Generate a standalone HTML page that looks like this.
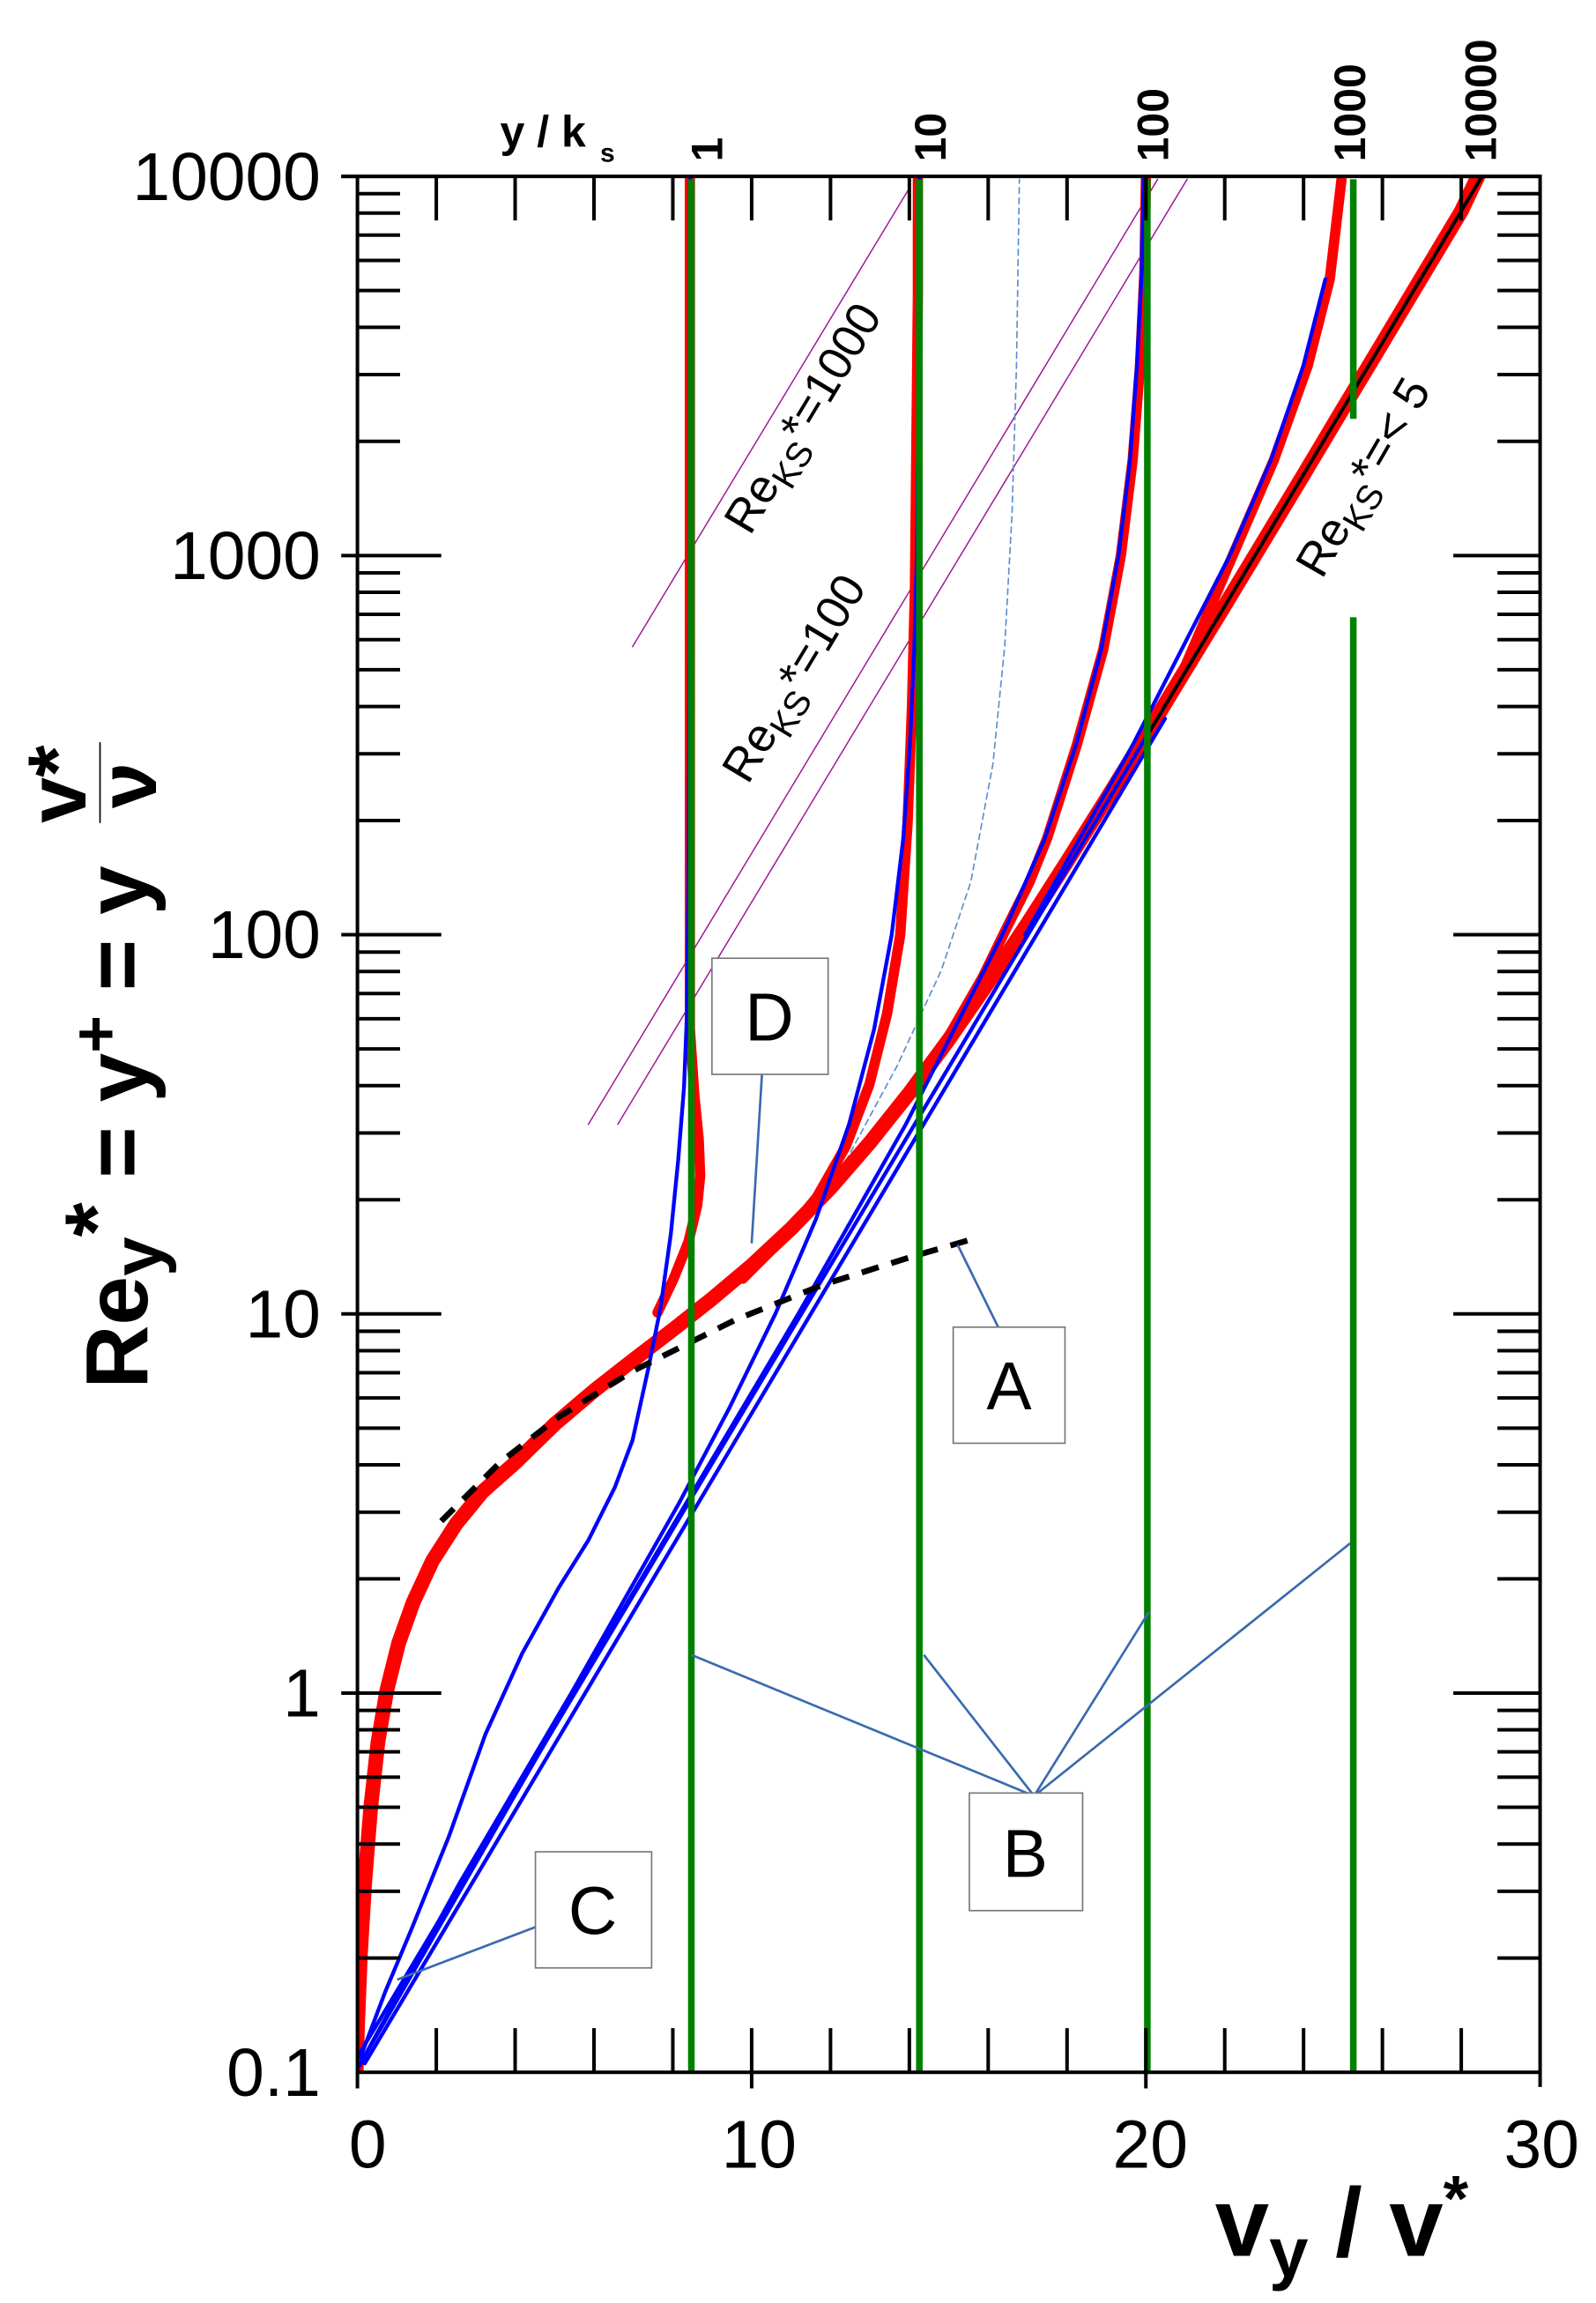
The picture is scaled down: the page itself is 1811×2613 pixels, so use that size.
<!DOCTYPE html>
<html><head><meta charset="utf-8"><style>html,body{margin:0;padding:0;background:#fff}svg{display:block}</style></head>
<body>
<svg xmlns="http://www.w3.org/2000/svg" width="1811" height="2613" viewBox="0 0 1085 1567" preserveAspectRatio="none" font-family="Liberation Sans, Arial, sans-serif">
<rect width="1085" height="1567" fill="#fff"/>
<defs><clipPath id="cp"><rect x="243" y="120" width="804" height="1290"/></clipPath></defs>
<g clip-path="url(#cp)" fill="none" stroke-linejoin="round" stroke-linecap="round">
 <g stroke="#a0189a" stroke-width="0.9">
  <line x1="430" y1="440" x2="617" y2="130"/>
  <line x1="400" y1="765" x2="787" y2="122"/>
  <line x1="420" y1="765" x2="807" y2="122"/>
 </g>
 <polyline stroke="#5b8fd0" stroke-width="1" stroke-dasharray="4,3" points="575,790 610,725 640,660 660,600 675,520 683,440 688,350 691,250 693,122"/>
 <!-- smooth wall -->
 <polyline stroke="#ff0000" stroke-width="10" points="242,1415 243,1380 245,1330 248,1280 252,1230 257,1185 263,1150 271,1118 281,1090 294,1062 310,1037 328,1015 350,995.5 377,969.1 403.8,946.3 430.6,925.3 457.4,904.8 484.2,883.6 511,861 537.8,836 564.6,808.3 591.4,777.4 618.2,743.7 645,707.3 671.8,668.6 698.6,628.2 725.4,586.3 752.2,543.6 779,500.2 805.8,456 832.6,412 859.4,367.5 886.2,323 913,278 939.8,233.3 966.6,188.5 993.4,143.7 1006.8,115.6"/>
 <!-- rough red curves -->
 <polyline stroke="#ff0000" stroke-width="7" points="505,870 530,845 555,815 575,780 591,738 603,690 612,636 617,560 620,480 622,400 623,300 624,200 624,122"/>
 <polyline stroke="#ff0000" stroke-width="7" points="618,744 645,705 668,665 684,632 700,600 712,570 732,507 750,442 762,378 770,313 775,249 778,185 779,122"/>
 <polyline stroke="#ff0000" stroke-width="7" points="779,500 805,455 838,378 866,313 889,249 904,190 912,122"/>
 <polyline stroke="#ff0000" stroke-width="7" points="447,893 458,870 468,845 474,820 476,800 475,775 472,745 469,700 469,640 469,122"/>
 <line stroke="#000" stroke-width="2.4" x1="779" y1="502" x2="1007.5" y2="120"/>
 <!-- blue -->
 <g stroke="#0000ff" stroke-width="2.6">
  <polyline points="245,1400 262,1355 280,1312 305,1250 330,1180 355,1125 380,1080 400,1048 418,1012 430,980 441,930 449,890 456,840 461,790 465,740 467,690 468,600 469,400 469,122"/>
  <line x1="244" y1="1398" x2="780" y2="500"/>
  <line x1="248" y1="1404" x2="792" y2="489"/>
  <polyline points="244,1406 312.6,1281 388.4,1152 461.5,1023 495.6,958.5 527.1,894 554.7,829.5 577.2,765 594.2,700.5 606.2,636 614,571 618.6,507 621.5,442 623.3,378 624.7,249 625.2,120"/>
  <polyline points="244,1406 390,1152 542.7,894 615.8,765 681.4,636 709.9,571.5 731.4,507 748.5,442.5 760.4,378 768.2,313.5 772.9,249 776.2,184.5 777.5,120"/>
  <polyline points="697,636 770,507 836,378 864,313 886,249 901,190"/>
 </g>
 <polyline stroke="#000" stroke-width="4" stroke-dasharray="12,9" stroke-linecap="butt" points="300,1035 340,995 380,964 430,933 500,898 560,874 620,855 665,842"/>
</g>
<g stroke="#008000" stroke-width="4.5">
 <line x1="470" y1="122" x2="470" y2="1410"/>
 <line x1="625" y1="122" x2="625" y2="1410"/>
 <line x1="780" y1="122" x2="780" y2="1410"/>
 <line x1="920" y1="122" x2="920" y2="285"/>
 <line x1="920" y1="420" x2="920" y2="1410"/>
</g>
<g stroke="#3a6ab0" stroke-width="1.6" fill="none">
 <line x1="518" y1="731" x2="511" y2="846"/>
 <line x1="686" y1="918" x2="651" y2="847"/>
 <line x1="703" y1="1222" x2="470" y2="1126"/>
 <line x1="703" y1="1222" x2="628" y2="1126"/>
 <line x1="703" y1="1222" x2="781" y2="1097"/>
 <line x1="703" y1="1222" x2="918" y2="1050"/>
 <line x1="375" y1="1307" x2="270" y2="1347"/>
</g>
<g fill="#fff" stroke="#777" stroke-width="1">
 <rect x="484" y="652" width="79" height="79"/>
 <rect x="648" y="903" width="76" height="79"/>
 <rect x="659" y="1220" width="77" height="80"/>
 <rect x="364" y="1260" width="79" height="79"/>
</g>
<g font-size="46" text-anchor="middle" fill="#000">
 <text x="523" y="708">D</text>
 <text x="686" y="959">A</text>
 <text x="697" y="1277">B</text>
 <text x="403" y="1316">C</text>
</g>
<g stroke="#000" fill="none" stroke-width="2.4">
 <path d="M232,120H1047V1420M243,120V1410H1047"/>
 <path d="M232,120h68M232,378h68M232,636h68M232,894h68M232,1152h68M1047,378h-59M1047,636h-59M1047,894h-59M1047,1152h-59M1047,120h-59"/>
 <path d="M243,1332.3h29M243,1286.9h29M243,1254.7h29M243,1229.7h29M243,1209.2h29M243,1192h29M243,1177h29M243,1163.8h29
 M243,1074.3h29M243,1028.9h29M243,996.7h29M243,971.7h29M243,951.2h29M243,934h29M243,919h29M243,905.8h29
 M243,816.3h29M243,770.9h29M243,738.7h29M243,713.7h29M243,693.2h29M243,676h29M243,661h29M243,647.8h29
 M243,558.3h29M243,512.9h29M243,480.7h29M243,455.7h29M243,435.2h29M243,418h29M243,403h29M243,389.8h29
 M243,300.3h29M243,254.9h29M243,222.7h29M243,197.7h29M243,177.2h29M243,160h29M243,145h29M243,131.8h29"/>
 <path d="M1047,1332.3h-29M1047,1286.9h-29M1047,1254.7h-29M1047,1229.7h-29M1047,1209.2h-29M1047,1192h-29M1047,1177h-29M1047,1163.8h-29
 M1047,1074.3h-29M1047,1028.9h-29M1047,996.7h-29M1047,971.7h-29M1047,951.2h-29M1047,934h-29M1047,919h-29M1047,905.8h-29
 M1047,816.3h-29M1047,770.9h-29M1047,738.7h-29M1047,713.7h-29M1047,693.2h-29M1047,676h-29M1047,661h-29M1047,647.8h-29
 M1047,558.3h-29M1047,512.9h-29M1047,480.7h-29M1047,455.7h-29M1047,435.2h-29M1047,418h-29M1047,403h-29M1047,389.8h-29
 M1047,300.3h-29M1047,254.9h-29M1047,222.7h-29M1047,197.7h-29M1047,177.2h-29M1047,160h-29M1047,145h-29M1047,131.8h-29"/>
 <path d="M296.6,1410v-30M350.2,1410v-30M403.8,1410v-30M457.4,1410v-30M511,1410v-30M564.6,1410v-30M618.2,1410v-30M671.8,1410v-30M725.4,1410v-30M779,1410v-30M832.6,1410v-30M886.2,1410v-30M939.8,1410v-30M993.4,1410v-30
 M296.6,120v30M350.2,120v30M403.8,120v30M457.4,120v30M511,120v30M564.6,120v30M618.2,120v30M671.8,120v30M725.4,120v30M779,120v30M832.6,120v30M886.2,120v30M939.8,120v30M993.4,120v30
 M243,1410v11M511,1410v11M779,1410v11"/>
</g>
<g font-size="46" fill="#000" text-anchor="end">
 <text x="218" y="136">10000</text>
 <text x="218" y="394">1000</text>
 <text x="218" y="652">100</text>
 <text x="218" y="910">10</text>
 <text x="218" y="1168">1</text>
 <text x="218" y="1426">0.1</text>
</g>
<g font-size="46" fill="#000" text-anchor="middle">
 <text x="250" y="1475">0</text>
 <text x="516" y="1475">10</text>
 <text x="782" y="1475">20</text>
 <text x="1048" y="1475">30</text>
</g>
<text x="826" y="1535" font-size="66" font-weight="bold">v<tspan font-size="48" dy="14">y</tspan><tspan dy="-14"> / v</tspan><tspan font-size="44" dy="-24">*</tspan></text>
<g transform="translate(100,945) rotate(-90)" font-weight="bold" fill="#000">
 <text x="0" y="0" font-size="60">Re<tspan font-size="48" dy="10">y</tspan><tspan dy="-24">*</tspan><tspan dy="14"> = y</tspan><tspan font-size="44" dy="-20">+</tspan><tspan dy="20"> = y</tspan></text>
 <text x="385" y="-42" font-size="56">v*</text>
 <text x="395" y="6" font-size="56">ν</text>
 <line x1="385" y1="-32" x2="440" y2="-32" stroke="#000" stroke-width="1"/>
</g>
<text x="340" y="100" font-size="30" font-weight="bold">y / k</text>
<text x="408" y="110" font-size="18" font-weight="bold">s</text>
<g font-size="30" font-weight="bold">
 <text transform="translate(491,110) rotate(-90)">1</text>
 <text transform="translate(643,110) rotate(-90)">10</text>
 <text transform="translate(794,110) rotate(-90)">100</text>
 <text transform="translate(928,110) rotate(-90)">1000</text>
 <text transform="translate(1017,110) rotate(-90)">10000</text>
</g>
<g font-size="32" text-anchor="middle">
 <text transform="translate(555,290) rotate(-59)">Re<tspan font-size="24" dy="8">KS</tspan><tspan dy="-8">*=1000</tspan></text>
 <text transform="translate(549,467) rotate(-59)">Re<tspan font-size="24" dy="8">KS</tspan><tspan dy="-8">*=100</tspan></text>
 <text transform="translate(936,330) rotate(-60)">Re<tspan font-size="24" dy="8">KS</tspan><tspan dy="-8">*=&lt; 5</tspan></text>
</g>
</svg>
</body></html>
